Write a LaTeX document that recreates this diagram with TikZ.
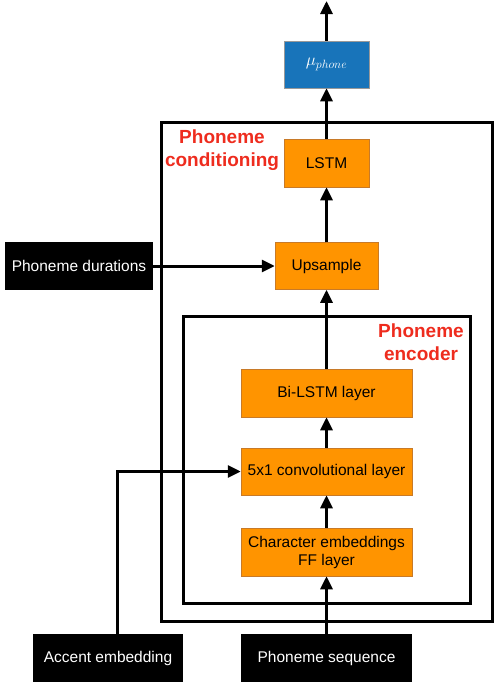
\documentclass[tikz,border=0pt]{standalone}
\usepackage{fontspec}
\setmainfont{Liberation Sans}
\usetikzlibrary{arrows.meta}
\definecolor{boxorange}{HTML}{FF9400}
\definecolor{boxblue}{HTML}{1874BA}
\definecolor{labelred}{HTML}{EE2C1E}
\definecolor{edgeorange}{HTML}{C87A28}
\begin{document}
\begin{tikzpicture}[x=1pt,y=-1pt,
  layer/.style={fill=boxorange, draw=edgeorange, line width=0.5pt, inner sep=0pt,
    font=\fontsize{15.5}{18}\selectfont, align=center, text=black},
  outbox/.style={fill=boxblue, draw=black!40, line width=0.5pt, inner sep=0pt,
    font=\fontsize{18}{20}\selectfont, text=white},
  io/.style={fill=black, text=white, inner sep=0pt, minimum height=48pt,
    font=\fontsize{15.5}{18}\selectfont},
  frame/.style={draw, line width=3pt},
  arr/.style={line width=3pt, -{Triangle[length=13pt,width=12pt]}},
  grp/.style={text=labelred, font=\bfseries\fontsize{19}{22.5}\selectfont, align=center}]
\useasboundingbox (0,0) rectangle (498,688);
% group frames
\draw[frame] (161,122) rectangle (492,621);
\draw[frame] (183,316) rectangle (470,603);
\node[grp] (condlab) at (222,150) {Phoneme\\conditioning};
\node[grp] (enclab) at (421,342) {Phoneme\\encoder};
% nodes
\node[outbox, minimum width=85pt, minimum height=47pt] (mu) at (326.5,64.5) {$\mu_{phone}$};
\node[layer, minimum width=85pt, minimum height=48pt] (lstm) at (326.5,163) {LSTM};
\node[layer, minimum width=103pt, minimum height=47pt] (up) at (326.5,266) {Upsample};
\node[layer, minimum width=171pt, minimum height=48pt] (bilstm) at (326.5,393) {Bi-LSTM layer};
\node[layer, minimum width=171pt, minimum height=47pt] (conv) at (326.5,471.5) {5x1 convolutional layer};
\node[layer, minimum width=171pt, minimum height=48pt] (char) at (326.5,552) {Character embeddings\\FF layer};
\node[io, minimum width=148pt] (dur) at (79,266) {Phoneme durations};
\node[io, minimum width=150pt] (acc) at (108,658) {Accent embedding};
\node[io, minimum width=171pt] (seq) at (326.5,658) {Phoneme sequence};
\coordinate (top) at (326.5,1);
\coordinate (acccol) at (117.5,472);
% connectors
\draw[arr] (seq.north) -- (char.south);
\draw[arr] (char.north) -- (conv.south);
\draw[arr] (conv.north) -- (bilstm.south);
\draw[arr] (bilstm.north) -- (up.south);
\draw[arr] (up.north) -- (lstm.south);
\draw[arr] (lstm.north) -- (mu.south);
\draw[arr] (mu.north) -- (top);
\draw[arr] (dur.east) -- (dur.east -| up.west);
\draw[arr] (acc.north -| acccol) |- (conv.west);
\end{tikzpicture}
\end{document}
